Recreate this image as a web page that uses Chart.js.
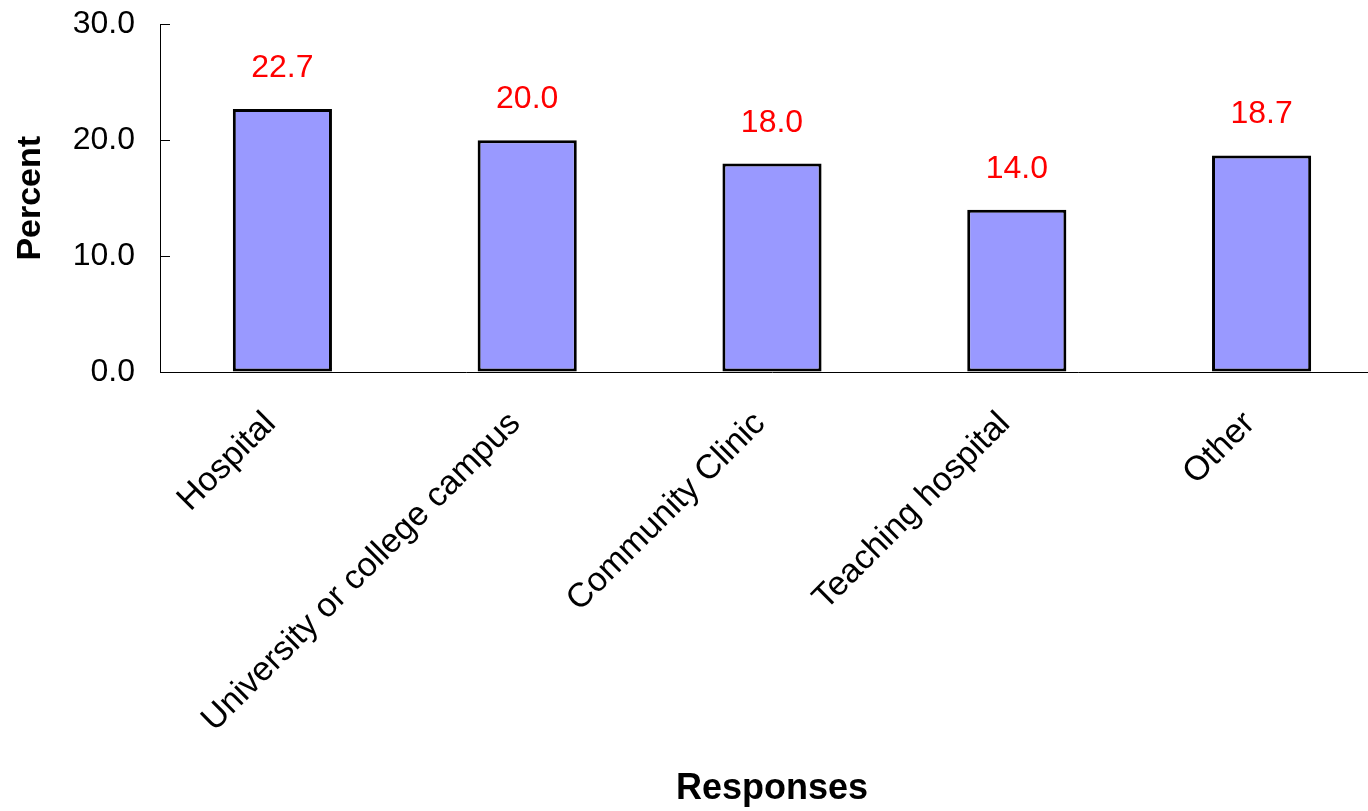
<!DOCTYPE html>
<html>
<head>
<meta charset="utf-8">
<title>Responses</title>
<script src="https://cdn.jsdelivr.net/npm/chart.js@4.4.1/dist/chart.umd.min.js"></script>
<style>
  html, body { margin: 0; padding: 0; background: #ffffff; overflow: hidden; }
  canvas { display: block; }
</style>
</head>
<body>
<!-- the plot runs a little past the right edge of the window, as in the original -->
<canvas id="responseChart" width="1384" height="811"></canvas>
<script>
// ========================
// DATA
// ========================
const categories = ["Hospital", "University or college campus", "Community Clinic", "Teaching hospital", "Other"];
const percents = [22.7, 20.0, 18.0, 14.0, 18.7];
const yTicks = [0, 10, 20, 30];

Chart.defaults.font.family = '"Liberation Sans", Arial, sans-serif';
Chart.defaults.color = '#000000';

// ========================
// VALUE LABELS ABOVE BARS
// ========================
const valueLabels = {
    id: 'valueLabels',
    afterDatasetsDraw(chart) {
        const ctx = chart.ctx;
        const meta = chart.getDatasetMeta(0);
        ctx.save();
        ctx.font = '32px "Liberation Sans", Arial, sans-serif';
        ctx.fillStyle = '#ff0000';
        ctx.textAlign = 'center';
        ctx.textBaseline = 'alphabetic';
        meta.data.forEach((bar, i) => {
            ctx.fillText(percents[i].toFixed(1), bar.x, bar.y - 32);
        });
        ctx.restore();
    }
};

// ========================
// CHART
// ========================
function drawChart() {
    const ctx = document.getElementById("responseChart");
    new Chart(ctx, {
        type: "bar",
        data: {
            labels: categories,
            datasets: [{
                data: percents,
                backgroundColor: "#9999ff",
                borderColor: "#000000",
                borderWidth: 3,
                borderSkipped: false,
                categoryPercentage: 1,
                barPercentage: 0.405
            }]
        },
        options: {
            responsive: false,
            animation: false,
            layout: {
                padding: { top: 24.5, right: 0, bottom: 0, left: 0 }
            },
            plugins: {
                legend: { display: false },
                tooltip: { enabled: false }
            },
            scales: {
                x: {
                    grid: { display: false, drawTicks: false },
                    border: { display: true, color: '#000000', width: 1 },
                    ticks: {
                        font: { size: 34 },
                        color: '#000000',
                        minRotation: 45,
                        maxRotation: 45,
                        autoSkip: false,
                        padding: 32,
                        labelOffset: -12
                    },
                    title: {
                        display: true,
                        text: 'Responses',
                        font: { size: 36, weight: 'bold' },
                        color: '#000000',
                        padding: 0
                    },
                    afterFit(scale) {
                        scale.height = 811 - 372;
                        scale.paddingLeft = 0;
                        scale.paddingRight = 0;
                    }
                },
                y: {
                    min: 0,
                    max: 30,
                    afterBuildTicks(scale) {
                        scale.ticks = yTicks.map(v => ({ value: v }));
                    },
                    grid: {
                        drawOnChartArea: false,
                        drawTicks: true,
                        tickLength: -10,
                        color: '#000000',
                        lineWidth: 1
                    },
                    border: { display: true, color: '#000000', width: 1 },
                    ticks: {
                        font: { size: 32 },
                        color: '#000000',
                        padding: 35,
                        callback: v => Number(v).toFixed(1)
                    },
                    title: {
                        display: true,
                        text: 'Percent',
                        font: { size: 34, weight: 'bold' },
                        color: '#000000',
                        padding: { top: 10, bottom: 0 }
                    },
                    afterFit(scale) {
                        scale.width = 160;
                        scale.paddingTop = 0;
                        scale.paddingBottom = 0;
                    }
                }
            }
        },
        plugins: [valueLabels]
    });
}

// ========================
// INIT
// ========================
drawChart();
</script>
</body>
</html>
